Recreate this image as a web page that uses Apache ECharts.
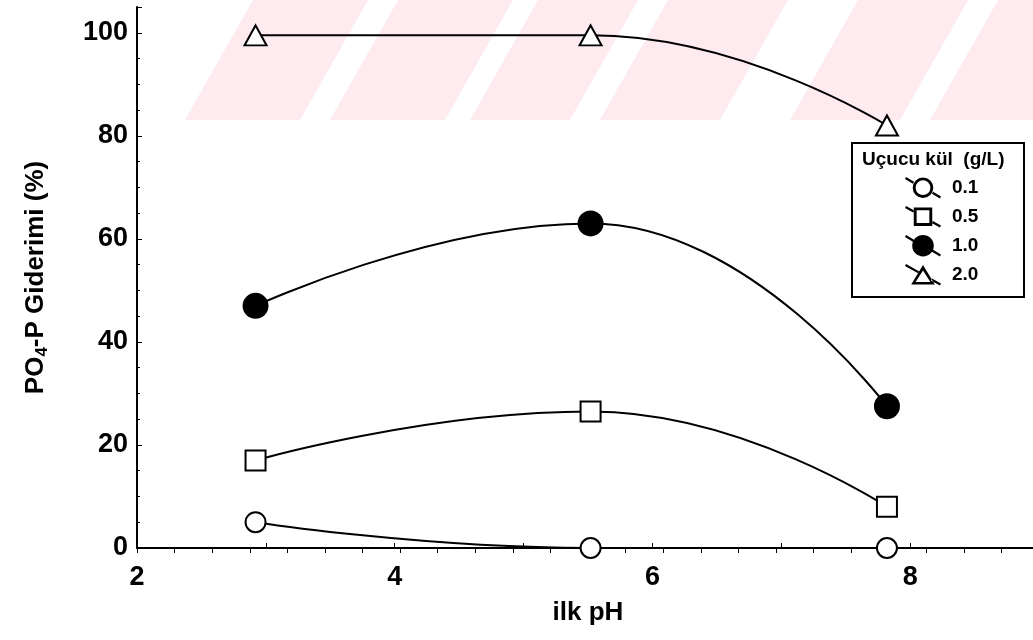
<!DOCTYPE html>
<html>
<head>
<meta charset="utf-8">
<script src="https://cdn.jsdelivr.net/npm/echarts@6/dist/echarts.min.js"></script>
<style>
  html, body { margin: 0; padding: 0; background: #fff; }
  #chart { width: 1033px; height: 640px; }
</style>
</head>
<body>
<div id="chart"></div>
<script>
// initial pH values (x)
const phValues = [2.92, 5.52, 7.82];
// PO4-P removal (%) for each fly ash dose (g/L)
const dose01 = [5, 0, 0];
const dose05 = [17, 26.5, 8];
const dose10 = [47, 63, 27.5];
const dose20 = [99.5, 99.5, 82];
const doseNames = ['0.1', '0.5', '1.0', '2.0'];
const yTicks = [0, 20, 40, 60, 80, 100];
const xTicks = [2, 4, 6, 8];

const font = '"Liberation Sans", Arial, sans-serif';
const chart = echarts.init(document.getElementById('chart'));

const toPairs = (vals) => phValues.map((x, i) => [x, vals[i]]);

const mkSeries = (name, vals, symbol, size) => ({
  name: name,
  type: 'line',
  smooth: 0.5,
  data: toPairs(vals),
  symbol: symbol,
  symbolSize: size,
  lineStyle: { color: '#000', width: 2 },
  itemStyle: { color: '#000', borderColor: '#000', borderWidth: 3 },
  z: 5
});

// legend icons: marker with a diagonal stroke, like the old plotting program
const f = (n) => n.toFixed(2);
const band = (a, b) => {
  const nx = -0.49, ny = 0.872, t = 1.1;
  return 'M' + f(a[0] + nx * t) + ',' + f(a[1] + ny * t) +
    'L' + f(b[0] + nx * t) + ',' + f(b[1] + ny * t) +
    'L' + f(b[0] - nx * t) + ',' + f(b[1] - ny * t) +
    'L' + f(a[0] - nx * t) + ',' + f(a[1] - ny * t) + 'Z';
};
const circ = (cx, cy, r, cw) => 'M' + f(cx - r) + ',' + cy +
  'A' + r + ',' + r + ' 0 1,' + cw + ' ' + f(cx + r) + ',' + cy +
  'A' + r + ',' + r + ' 0 1,' + cw + ' ' + f(cx - r) + ',' + cy + 'Z';
const A = [1, 2.5], B = [35, 21.5];
const iconCircleOpen = 'path://' + band(A, [8.7, 7.1]) + band([27.3, 16.9], B) +
  circ(18, 12, 10, 1) + circ(18, 12, 7.2, 0);
const iconSquareOpen = 'path://' + band(A, [9, 7]) + band([27, 17.1], B) +
  'M9,3L27,3L27,21L9,21Z' + 'M11.8,5.8L11.8,18.2L24.2,18.2L24.2,5.8Z';
const iconCircleFilled = 'path://' + band(A, [8.7, 7.1]) + band([27.3, 16.9], B) +
  circ(18, 12, 10.5, 1);
const iconTriangleOpen = 'path://' + band(A, [13.8, 9.7]) + band([26.2, 16.7], B) +
  'M18,2.5L29.5,21.5L6.5,21.5Z' + 'M18,8L10.8,19L25.2,19Z';

// light pink watermark bands in the top area of the scan
const bands = [[185, 300], [330, 445], [470, 570], [600, 720], [790, 900], [930, 1040]];
const watermark = bands.map(b => ({
  type: 'polygon',
  z: -10,
  shape: { points: [[b[0], 120], [b[1], 120], [b[1] + 68, 0], [b[0] + 68, 0]] },
  style: { fill: '#fdebef' }
}));

chart.setOption({
  animation: false,
  backgroundColor: '#fff',
  grid: { left: 137, width: 902, top: 7, bottom: 92, outerBoundsMode: 'none' },
  xAxis: [{
    type: 'value',
    min: 2, max: 9, interval: 1,
    name: 'ilk pH',
    nameLocation: 'middle',
    nameGap: 52,
    nameTextStyle: { fontFamily: font, fontSize: 26, fontWeight: 'bold', color: '#000' },
    axisLine: { show: true, onZero: false, lineStyle: { color: '#000', width: 2 } },
    axisTick: { show: true, inside: true, length: 5, lineStyle: { color: '#000' } },
    axisLabel: {
      fontFamily: font, fontSize: 27, fontWeight: 'bold', color: '#000', margin: 16,
      formatter: v => xTicks.includes(v) ? String(v) : ''
    },
    splitLine: { show: false }
  }, {
    // top frame with its own fine tick marks
    type: 'value',
    position: 'top',
    min: 0, max: 24, interval: 1,
    axisLine: { show: true, lineStyle: { color: '#000', width: 2 } },
    axisTick: { show: true, inside: true, length: 5, lineStyle: { color: '#000' } },
    axisLabel: { show: false },
    splitLine: { show: false }
  }],
  yAxis: {
    type: 'value',
    min: 0, max: 105, interval: 20,
    name: 'PO{sub|4}-P Giderimi (%)',
    nameLocation: 'middle',
    nameGap: 86,
    nameRotate: 90,
    nameTextStyle: {
      fontFamily: font, fontSize: 26, fontWeight: 'bold', color: '#000',
      rich: { sub: { fontFamily: font, fontSize: 17, fontWeight: 'bold', color: '#000', verticalAlign: 'bottom', padding: [14, 0, 0, 0] } }
    },
    axisLine: { show: true, lineStyle: { color: '#000', width: 2 } },
    axisTick: { show: true, inside: true, length: 5, lineStyle: { color: '#000' } },
    minorTick: { show: true, splitNumber: 4, length: 3, lineStyle: { color: '#000' } },
    axisLabel: {
      fontFamily: font, fontSize: 27, fontWeight: 'bold', color: '#000', margin: 9,
      formatter: v => yTicks.includes(v) ? String(v) : ''
    },
    splitLine: { show: false }
  },
  legend: {
    orient: 'vertical',
    left: 900,
    top: 172,
    data: [
      { name: doseNames[0], icon: iconCircleOpen },
      { name: doseNames[1], icon: iconSquareOpen },
      { name: doseNames[2], icon: iconCircleFilled },
      { name: doseNames[3], icon: iconTriangleOpen }
    ],
    itemWidth: 36,
    itemHeight: 24,
    itemGap: 7.5,
    itemStyle: { color: '#000', borderWidth: 0 },
    textStyle: { fontFamily: font, fontSize: 19, fontWeight: 'bold', color: '#000', padding: [0, 0, 0, 6] }
  },
  graphic: watermark.concat([
    {
      type: 'rect',
      z: 1,
      shape: { x: 852, y: 143, width: 172, height: 154 },
      style: { fill: '#fff', stroke: '#000', lineWidth: 2 }
    },
    {
      type: 'text',
      z: 2,
      left: 862,
      top: 150,
      style: { text: 'Uçucu kül  (g/L)', font: 'bold 19px "Liberation Sans", Arial, sans-serif', fill: '#000' }
    }
  ]),
  series: [
    mkSeries(doseNames[0], dose01, 'emptyCircle', 20),
    mkSeries(doseNames[1], dose05, 'emptyRect', 20),
    mkSeries(doseNames[2], dose10, 'circle', 23),
    mkSeries(doseNames[3], dose20, 'emptyTriangle', [22, 20])
  ]
});
</script>
</body>
</html>
